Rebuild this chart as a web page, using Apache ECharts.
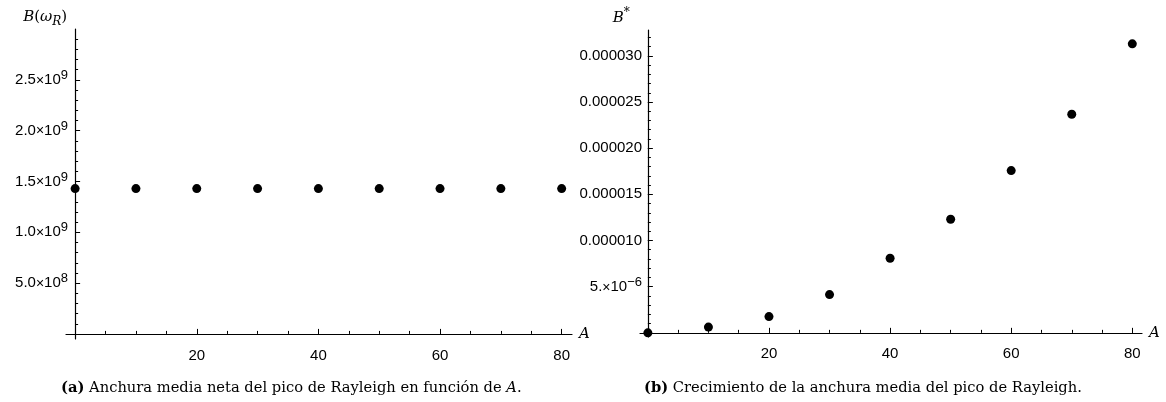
<!DOCTYPE html>
<html>
<head>
<meta charset="utf-8">
<script src="https://cdn.jsdelivr.net/npm/echarts@6/dist/echarts.min.js"></script>
<style>
  html, body { margin: 0; padding: 0; background: #fff; }
  #chart { width: 1166px; height: 402px; }
</style>
</head>
<body>
<div id="chart"></div>
<script>
// Mass number A of the nucleus
const massNumbers = [0, 10, 20, 30, 40, 50, 60, 70, 80];
// (a) Net half-width of the Rayleigh peak, B(ω_R)
const netWidth = [1.43e9, 1.43e9, 1.43e9, 1.43e9, 1.43e9, 1.43e9, 1.43e9, 1.43e9, 1.43e9];
// (b) Growth of the half-width, B*
const widthGrowth = [0, 6.2e-7, 1.76e-6, 4.14e-6, 8.08e-6, 1.23e-5, 1.757e-5, 2.367e-5, 3.13e-5];

// Tick marks and labels
const xTickValues = [20, 40, 60, 80];
const xTickLabels = ['20', '40', '60', '80'];
const yTickValuesA = [5e8, 1e9, 1.5e9, 2e9, 2.5e9];
const yTickMantissaA = ['5.0', '1.0', '1.5', '2.0', '2.5'];
const yTickExponentA = ['8', '9', '9', '9', '9'];
const yTickValuesB = [5e-6, 1e-5, 1.5e-5, 2e-5, 2.5e-5, 3e-5];
const yTickLabelsB = ['5.×10^−6', '0.000010', '0.000015', '0.000020', '0.000025', '0.000030'];

const captionA = 'Anchura media neta del pico de Rayleigh en función de ';
const captionB = 'Crecimiento de la anchura media del pico de Rayleigh.';

// minor tick positions (steps between labelled ticks)
function steps(from, to, step) {
  const out = [];
  for (let k = Math.round(from / step); k * step <= to * (1 + 1e-9); k++) out.push(k * step);
  return out;
}
const xMinor = steps(5, 80, 5);
const yMinorA = steps(1e8, 2.95e9, 1e8);
const yMinorB = steps(1e-6, 3.25e-5, 1e-6);

function indexOfTick(values, v) {
  for (let i = 0; i < values.length; i++) {
    if (Math.abs(values[i] - v) <= Math.abs(values[i]) * 1e-6) return i;
  }
  return -1;
}

const SANS = 'Liberation Sans';
const SERIF = 'DejaVu Serif';
const INK = '#000';

const labelRich = {
  m: { fontFamily: SANS, fontSize: 15, color: INK, lineHeight: 22 },
  x: { fontFamily: SANS, fontSize: 14, color: INK, lineHeight: 22, padding: [2, 0, 0, 0] },
  sup: { fontFamily: SANS, fontSize: 13, color: INK, lineHeight: 12, verticalAlign: 'top' }
};

function xAxisPair(gridIndex, min, max, zeroIdx) {
  return [
    {
      type: 'value', gridIndex, min, max, position: 'bottom',
      axisLine: { onZero: true, onZeroAxisIndex: zeroIdx, lineStyle: { color: INK, width: 1.2 } },
      axisTick: { inside: true, length: 5, lineStyle: { color: INK }, customValues: xTickValues },
      axisLabel: {
        customValues: xTickValues, margin: 9,
        fontFamily: SANS, fontSize: 15, color: INK,
        formatter: v => xTickLabels[indexOfTick(xTickValues, v)] || ''
      },
      splitLine: { show: false },
      name: 'A', nameLocation: 'end', nameGap: 7,
      nameTextStyle: { fontFamily: SERIF, fontStyle: 'italic', fontSize: 15, color: INK, verticalAlign: 'middle', padding: [6, 0, 0, 0] }
    },
    {
      type: 'value', gridIndex, min, max, position: 'bottom',
      axisLine: { show: false, onZero: true, onZeroAxisIndex: zeroIdx },
      axisTick: { inside: true, length: 3, lineStyle: { color: INK }, customValues: xMinor },
      axisLabel: { show: false },
      splitLine: { show: false }
    }
  ];
}

function yAxisPair(gridIndex, min, max, zeroIdx, major, minor, formatter, name, nameRight) {
  return [
    {
      type: 'value', gridIndex, min, max, position: 'left',
      axisLine: { onZero: true, onZeroAxisIndex: zeroIdx, lineStyle: { color: INK, width: 1.2 } },
      axisTick: { inside: true, length: 5, lineStyle: { color: INK }, customValues: major },
      axisLabel: { customValues: major, margin: -2, formatter, rich: labelRich, fontFamily: SANS, fontSize: 15, color: INK },
      splitLine: { show: false },
      name, nameLocation: 'end', nameGap: 1,
      nameTextStyle: {
        align: 'right', padding: [0, nameRight, 0, 0],
        fontFamily: SERIF, fontSize: 15, color: INK,
        rich: {
          i: { fontFamily: SERIF, fontStyle: 'italic', fontSize: 15, color: INK, lineHeight: 22 },
          n: { fontFamily: SERIF, fontSize: 15, color: INK, lineHeight: 22 },
          sub: { fontFamily: SERIF, fontStyle: 'italic', fontSize: 12, color: INK, lineHeight: 11, verticalAlign: 'bottom' },
          sup: { fontFamily: SERIF, fontSize: 12, color: INK, lineHeight: 14, verticalAlign: 'top' }
        }
      }
    },
    {
      type: 'value', gridIndex, min, max, position: 'left',
      axisLine: { show: false, onZero: true, onZeroAxisIndex: zeroIdx },
      axisTick: { inside: true, length: 3, lineStyle: { color: INK }, customValues: minor },
      axisLabel: { show: false },
      splitLine: { show: false }
    }
  ];
}

const fmtA = v => {
  const i = indexOfTick(yTickValuesA, v);
  if (i < 0) return '';
  return '{m|' + yTickMantissaA[i] + '}{x|×}{m|10}{sup|' + yTickExponentA[i] + '}';
};
const fmtB = v => {
  const i = indexOfTick(yTickValuesB, v);
  if (i < 0) return '';
  const s = yTickLabelsB[i];
  if (s.indexOf('^') >= 0) {
    const [base, exp] = s.split('^');
    const parts = base.split('×');
    return '{m|' + parts[0] + '}{x|×}{m|' + parts[1] + '}{sup|' + exp + '}';
  }
  return '{m|' + s + '}';
};

const CAP = 14.7;
const captionRich = {
  b: { fontFamily: SERIF, fontWeight: 'bold', fontSize: CAP, color: INK },
  t: { fontFamily: SERIF, fontWeight: 'normal', fontSize: CAP, color: INK },
  i: { fontFamily: SERIF, fontWeight: 'normal', fontStyle: 'italic', fontSize: CAP, color: INK }
};

const option = {
  animation: false,
  backgroundColor: '#fff',
  title: [
    { text: '{b|(a)}{t| ' + captionA + '}{i|A}{t|.}', left: 56, top: 376, textStyle: { fontWeight: 'normal', rich: captionRich } },
    { text: '{b|(b)}{t| ' + captionB + '}', left: 639, top: 376, textStyle: { fontWeight: 'normal', rich: captionRich } }
  ],
  grid: [
    { left: 66, right: 594, top: 29, bottom: 63 },
    { left: 640, right: 24, top: 30, bottom: 65 }
  ],
  xAxis: [
    ...xAxisPair(0, -1.5, 81.7, 0),
    ...xAxisPair(1, -1.3, 81.6, 2)
  ],
  yAxis: [
    ...yAxisPair(0, -0.05e9, 3.0e9, 0, yTickValuesA, yMinorA, fmtA, '{i|B}{n|(}{i|ω}{sub|R}{n|)}', 8),
    ...yAxisPair(1, -0.45e-6, 3.28e-5, 2, yTickValuesB, yMinorB, fmtB, '{i|B}{sup|*}', 18)
  ],
  series: [
    {
      type: 'scatter', xAxisIndex: 0, yAxisIndex: 0,
      data: massNumbers.map((a, i) => [a, netWidth[i]]),
      symbolSize: 9, itemStyle: { color: INK, opacity: 1 }
    },
    {
      type: 'scatter', xAxisIndex: 2, yAxisIndex: 2,
      data: massNumbers.map((a, i) => [a, widthGrowth[i]]),
      symbolSize: 9, itemStyle: { color: INK, opacity: 1 }
    }
  ]
};

const chart = echarts.init(document.getElementById('chart'), null, { renderer: 'canvas' });
chart.setOption(option);
</script>
</body>
</html>
